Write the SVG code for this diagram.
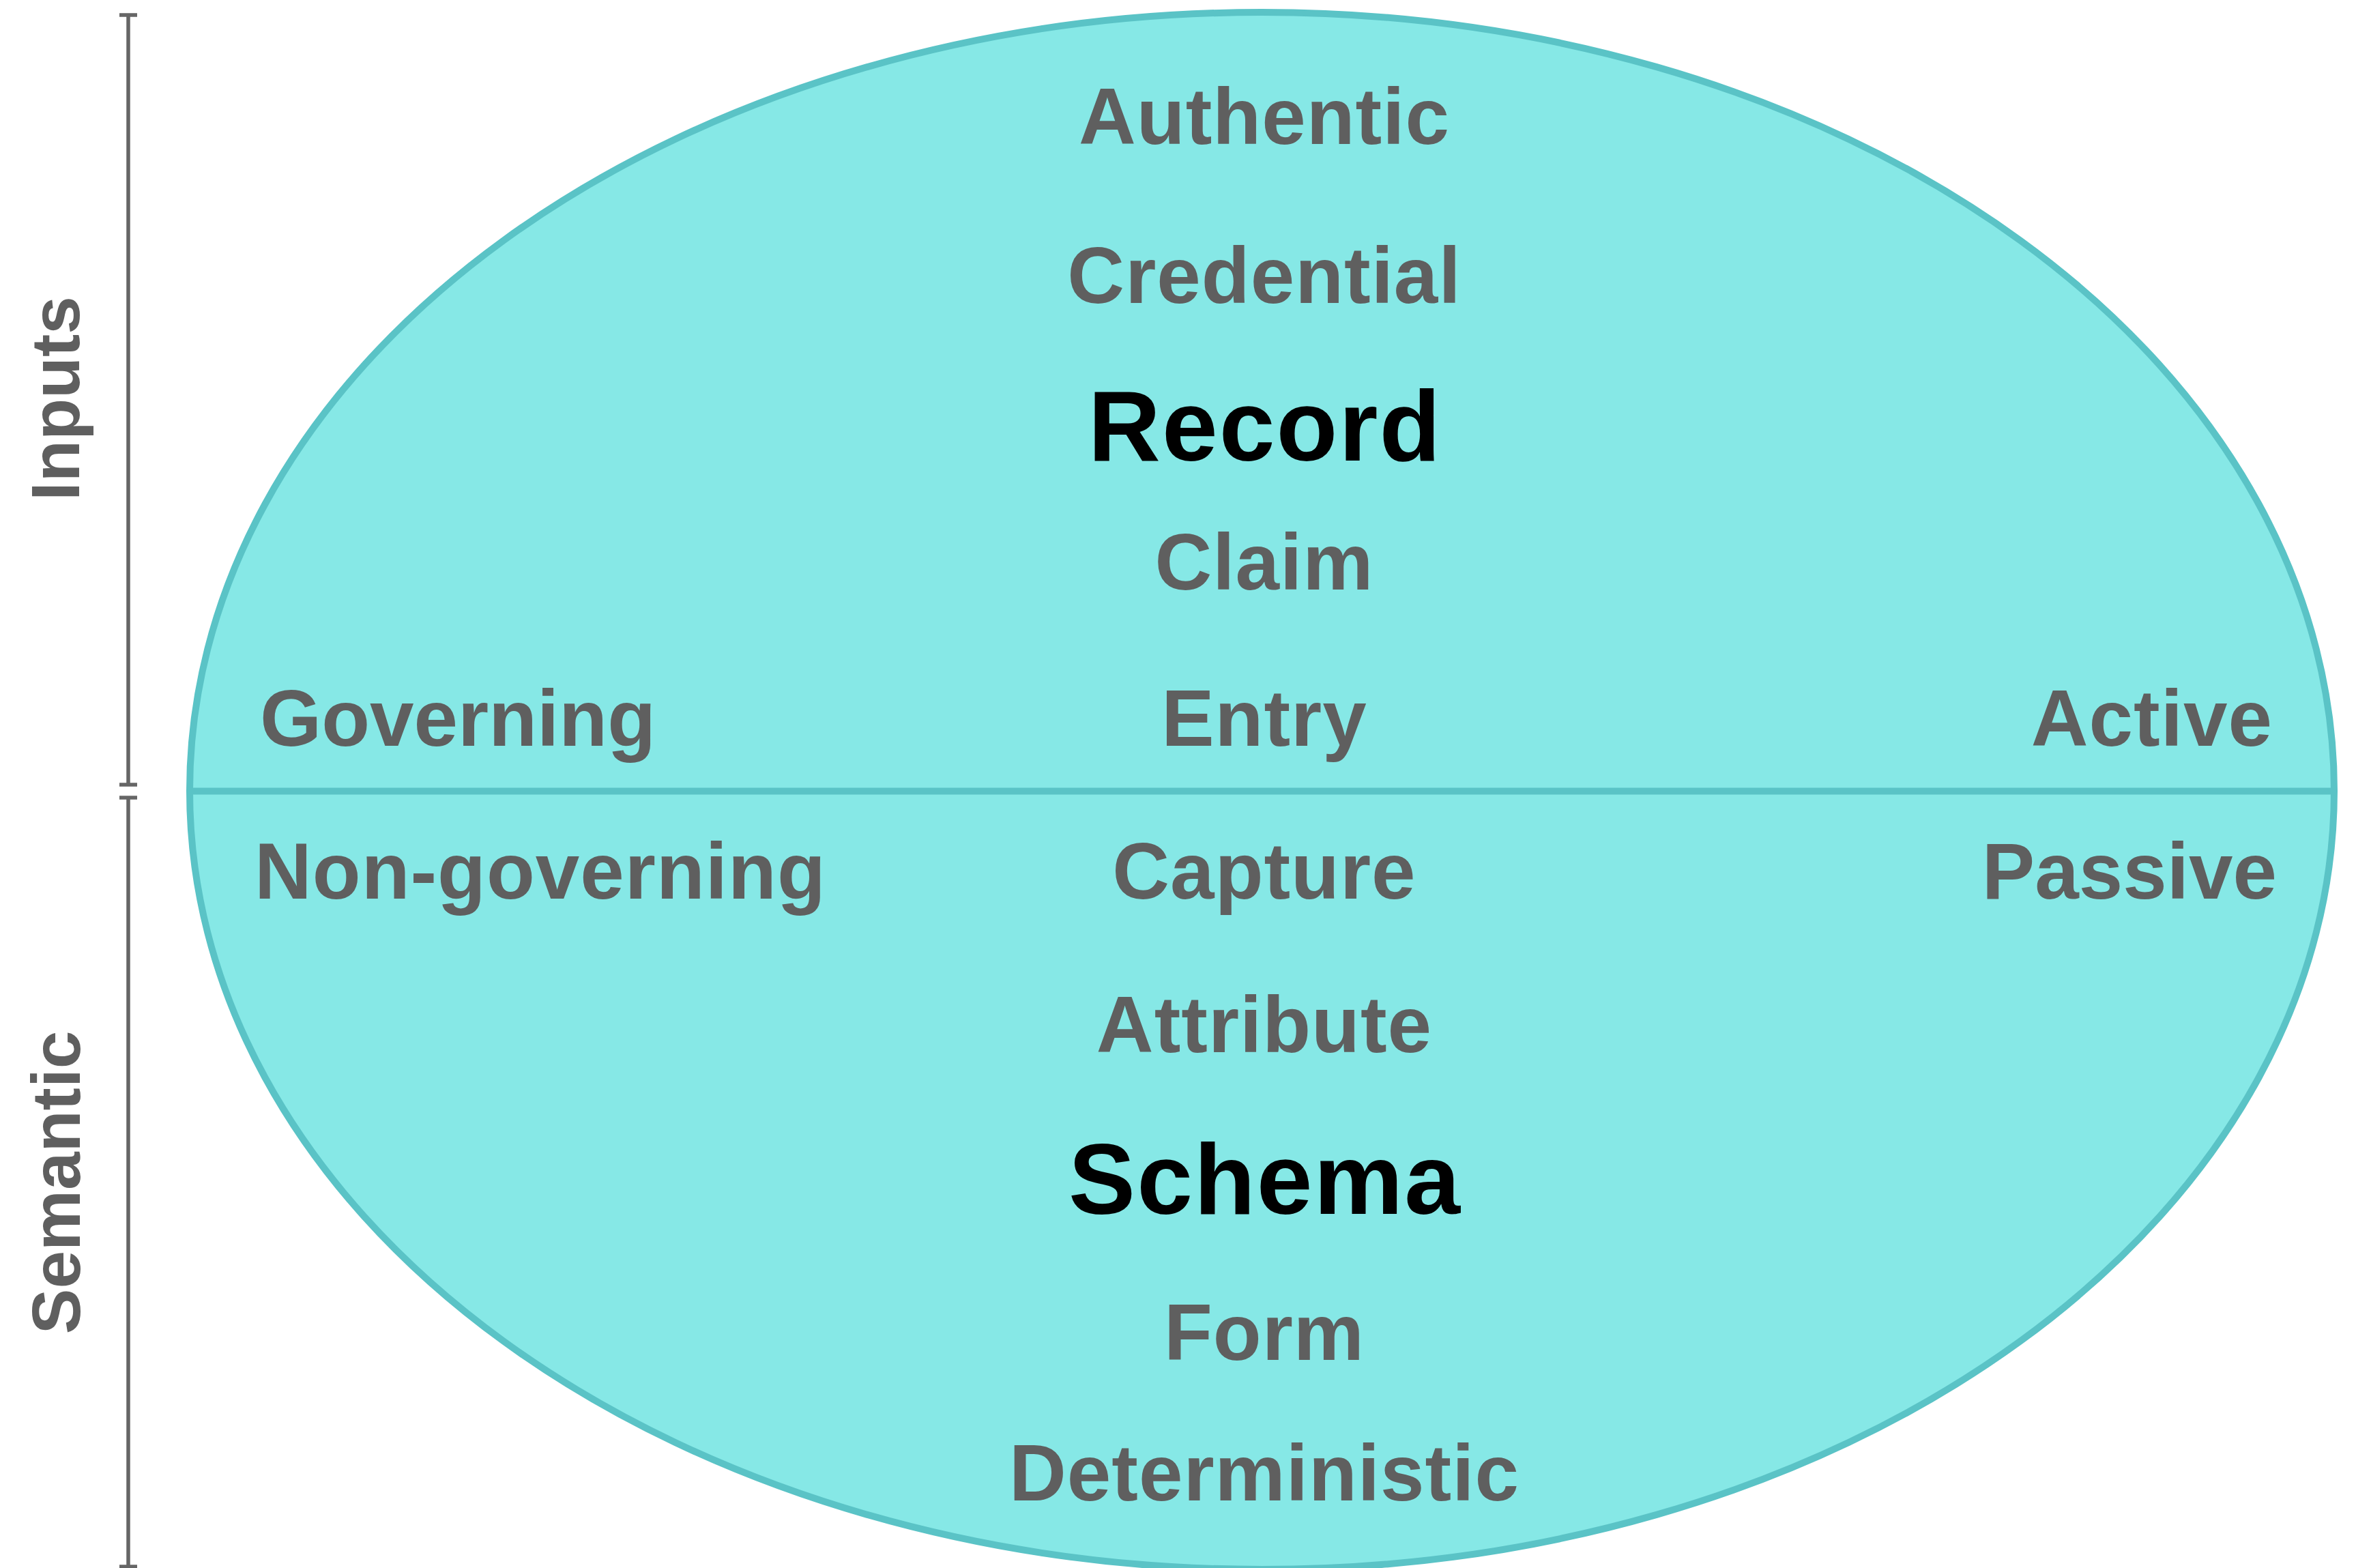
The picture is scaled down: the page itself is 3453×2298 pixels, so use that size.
<svg xmlns="http://www.w3.org/2000/svg" width="3453" height="2298" viewBox="0 0 3453 2298">
<style>
.t{font-family:"Liberation Sans",Arial,sans-serif;font-weight:bold;fill:#5f5f5f;font-size:116px;text-anchor:middle;letter-spacing:1px}
.big{font-size:147px;fill:#000;letter-spacing:2px}
.side{font-size:100px;letter-spacing:0}
.br{stroke:#666;stroke-width:5.5;fill:none}
</style>
<rect width="3453" height="2298" fill="#fff"/>
<g id="ellipse">
<ellipse cx="1849.5" cy="1159" rx="1571.5" ry="1141" fill="#86e8e6" stroke="#5ac3c6" stroke-width="10"/>
<line x1="278" y1="1159.5" x2="3421" y2="1159.5" stroke="#5ac3c6" stroke-width="10"/>
</g>
<g id="brackets">
<path class="br" d="M188 22V1150M175 22H201M175 1150H201"/>
<path class="br" d="M188 1169V2296M175 1169H201M175 2296H201"/>
</g>
<g id="side-labels">
<text class="t side" transform="translate(116,584) rotate(-90)">Inputs</text>
<text class="t side" transform="translate(117,1733) rotate(-90)">Semantic</text>
</g>
<g id="terms">
<text class="t" x="1853" y="211">Authentic</text>
<text class="t" x="1853" y="444">Credential</text>
<text class="t big" x="1854" y="675">Record</text>
<text class="t" x="1853" y="864">Claim</text>
<text class="t" x="1853" y="1093">Entry</text>
<text class="t" x="1853" y="1317">Capture</text>
<text class="t" x="1853" y="1542">Attribute</text>
<text class="t big" x="1854" y="1779">Schema</text>
<text class="t" x="1853" y="1993">Form</text>
<text class="t" x="1853" y="2199">Deterministic</text>
<text class="t" x="381" y="1093" style="text-anchor:start;letter-spacing:0">Governing</text>
<text class="t" x="373" y="1317" style="text-anchor:start">Non-governing</text>
<text class="t" x="3331" y="1093" style="text-anchor:end">Active</text>
<text class="t" x="3337" y="1317" style="text-anchor:end;letter-spacing:0">Passive</text>
</g>
</svg>
